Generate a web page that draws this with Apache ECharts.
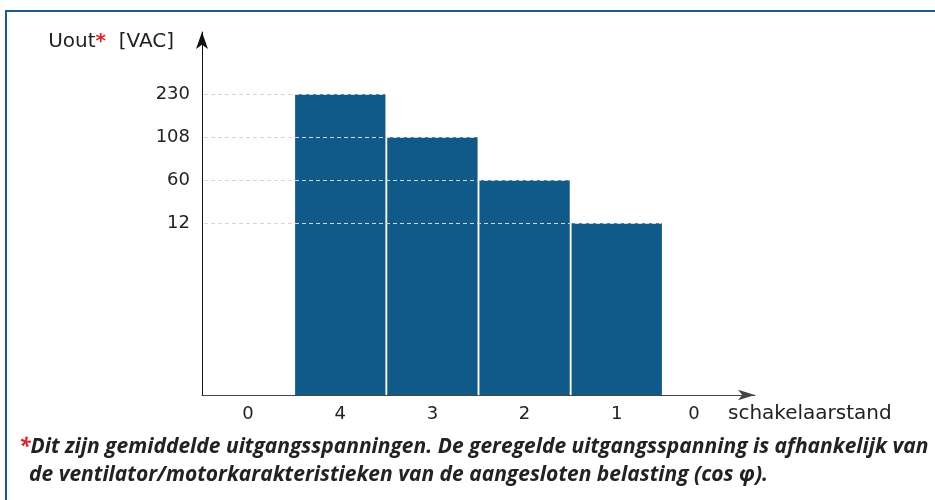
<!DOCTYPE html>
<html>
<head>
<meta charset="utf-8">
<script src="https://cdn.jsdelivr.net/npm/echarts@6.0.0/dist/echarts.min.js"></script>
<style>
  html, body { margin: 0; padding: 0; background: #fff; }
  #chart { width: 935px; height: 500px; }
</style>
</head>
<body>
<div id="chart"></div>
<script>
// schakelaarstanden (x-as), spanning per stand, gebruikte tick-waarden
const switchPositions = ['0', '4', '3', '2', '1', '0'];
const voltages = [null, 230, 108, 60, 12, null];
const voltageTicks = [12, 60, 108, 230];
// de y-as is niet lineair: de eerste tick ligt 4 stappen boven de oorsprong
const firstTickLevel = 4;

const footnoteLine1 = 'Dit zijn gemiddelde uitgangsspanningen. De geregelde uitgangsspanning is afhankelijk van';
const footnoteLine2 = 'de ventilator/motorkarakteristieken van de aangesloten belasting (cos φ).';

function levelOf(v) {
  return v == null ? null : voltageTicks.indexOf(v) + firstTickLevel;
}

const barData = voltages.map(v => levelOf(v));
const lineData = [];
voltages.forEach((v, i) => { if (v != null) lineData.push([i, levelOf(v)]); });

const myChart = echarts.init(document.getElementById('chart'));
const font = 'DejaVu Sans';
const noteFont = 'italic bold 21px "Open Sans"';

let option = {
  animation: false,
  grid: { left: 202, right: 180, top: 32, bottom: 105 },
  xAxis: {
    type: 'category',
    data: switchPositions,
    boundaryGap: true,
    axisLine: { lineStyle: { color: '#444', width: 1 }, symbol: ['none', 'arrow'], symbolSize: [8, 17] },
    axisTick: { show: false },
    axisLabel: {
      color: '#222', fontFamily: font, fontSize: 18, margin: 10, interval: 0,
      formatter: function (val, idx) {
        return idx === switchPositions.length - 1 ? '{shift|' + val + '}' : val;
      },
      rich: { shift: { padding: [0, 30, 0, 0], fontFamily: font, fontSize: 18, color: '#222' } }
    },
    name: 'schakelaarstand',
    nameLocation: 'end',
    nameGap: -27,
    nameTextStyle: { color: '#222', fontFamily: font, fontSize: 20, align: 'left', verticalAlign: 'top', padding: [9, 0, 0, 0] },
    splitLine: { show: false }
  },
  yAxis: {
    type: 'value',
    min: 0,
    max: 8.45,
    interval: 1,
    axisLine: { show: true, lineStyle: { color: '#111', width: 1 }, symbol: ['none', 'arrow'], symbolSize: [9, 17] },
    axisTick: { show: false },
    splitLine: { show: false },
    axisLabel: {
      color: '#222', fontFamily: font, fontSize: 18, margin: 12,
      formatter: function (val) {
        const idx = Math.round(val) - firstTickLevel;
        return idx >= 0 && idx < voltageTicks.length ? String(voltageTicks[idx]) : '';
      }
    },
    name: 'Uout{r|*}  [VAC]',
    nameLocation: 'end',
    nameGap: -10,
    nameTextStyle: {
      color: '#222', fontFamily: font, fontSize: 20, align: 'right', verticalAlign: 'middle',
      padding: [0, 28, 0, 0],
      rich: { r: { color: '#d9262b', fontFamily: font, fontSize: 20, fontWeight: 'bold' } }
    }
  },
  series: [
    {
      type: 'bar',
      data: barData,
      barCategoryGap: '2%',
      itemStyle: { color: '#0f5a89' },
      z: 2
    },
    {
      type: 'custom',
      data: lineData,
      z: 5,
      silent: true,
      renderItem: function (params, api) {
        const p = api.coord([api.value(0), api.value(1)]);
        const w = api.size([1, 0])[0];
        const y = Math.round(p[1]) + 0.5;
        return {
          type: 'line',
          shape: { x1: params.coordSys.x + 2, y1: y, x2: p[0] + w / 2 - 2, y2: y },
          style: { stroke: '#d6d6d6', lineWidth: 1, lineDash: [4, 3] }
        };
      }
    }
  ],
  graphic: [
    {
      type: 'rect',
      shape: { x: 6, y: 11, width: 1000, height: 600 },
      style: { fill: 'none', stroke: '#1b5b8c', lineWidth: 2 },
      silent: true
    },
    {
      type: 'text',
      left: 19, top: 437,
      style: {
        text: '{r|*}' + footnoteLine1,
        font: noteFont,
        fill: '#222',
        rich: { r: { fill: '#d9262b', font: noteFont } }
      }
    },
    {
      type: 'text',
      left: 29, top: 465,
      style: { text: footnoteLine2, font: noteFont, fill: '#222' }
    }
  ]
};

myChart.setOption(option);
window.addEventListener('resize', function () { myChart.resize(); });
</script>
</body>
</html>
